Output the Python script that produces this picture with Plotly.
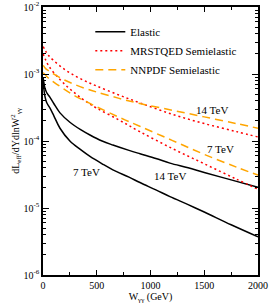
import math
import plotly.graph_objects as go

# W_gamma-gamma (GeV)
W_el = [2, 10, 20, 35, 65, 100, 158, 250, 350, 437, 550, 650, 800, 902, 1050, 1181, 1350, 1500, 1750, 2000]
el7_log = [-3.08, -3.25, -3.35, -3.43, -3.51, -3.62, -3.81, -4.00, -4.13, -4.23, -4.34, -4.43, -4.54, -4.62, -4.73, -4.83, -4.95, -5.06, -5.25, -5.43]
el14_log = [-3.06, -3.15, -3.22, -3.28, -3.35, -3.44, -3.58, -3.72, -3.83, -3.91, -4.00, -4.06, -4.14, -4.19, -4.26, -4.33, -4.40, -4.47, -4.58, -4.69]

W_se = [2, 25, 50, 100, 200, 300, 400, 500, 700, 900, 1200, 1500, 1800, 2000]
mrst14_log = [-2.59, -2.66, -2.72, -2.80, -2.93, -3.03, -3.11, -3.18, -3.31, -3.43, -3.60, -3.74, -3.86, -3.94]
nnpdf14_log = [-2.87, -2.92, -2.95, -3.00, -3.09, -3.16, -3.22, -3.27, -3.36, -3.44, -3.54, -3.64, -3.74, -3.81]
mrst7_log = [-2.70, -2.79, -2.87, -2.98, -3.15, -3.29, -3.41, -3.51, -3.68, -3.86, -4.11, -4.34, -4.57, -4.72]
nnpdf7_log = [-2.98, -3.02, -3.06, -3.12, -3.23, -3.33, -3.41, -3.49, -3.64, -3.78, -3.99, -4.20, -4.39, -4.51]

labels = ["14 TeV", "7 TeV", "14 TeV", "7 TeV"]
label_W = [1572, 1647, 1181, 400]
label_y = [2.9e-4, 7.6e-5, 3.0e-5, 3.4e-5]

x_ticks = [0, 500, 1000, 1500, 2000]
x_minor = [250, 750, 1250, 1750]
y_exps = [-6, -5, -4, -3, -2]


def v(lst):
    return [10 ** a for a in lst]


FONT = "Liberation Serif"
DOT = "2px,3px"
DASH = "8px,5px"
fig = go.Figure()
fig.add_trace(go.Scatter(x=W_el, y=v(el7_log), mode="lines", name="Elastic",
                         line=dict(color="black", width=1.5, shape="spline")))
fig.add_trace(go.Scatter(x=W_el, y=v(el14_log), mode="lines", showlegend=False,
                         line=dict(color="black", width=1.5, shape="spline")))
fig.add_trace(go.Scatter(x=W_se, y=v(mrst14_log), mode="lines", name="MRSTQED Semielastic",
                         line=dict(color="red", width=1.5, dash=DOT, shape="spline")))
fig.add_trace(go.Scatter(x=W_se, y=v(mrst7_log), mode="lines", showlegend=False,
                         line=dict(color="red", width=1.5, dash=DOT, shape="spline")))
fig.add_trace(go.Scatter(x=W_se, y=v(nnpdf14_log), mode="lines", name="NNPDF Semielastic",
                         line=dict(color="orange", width=1.5, dash=DASH, shape="spline")))
fig.add_trace(go.Scatter(x=W_se, y=v(nnpdf7_log), mode="lines", showlegend=False,
                         line=dict(color="orange", width=1.5, dash=DASH, shape="spline")))

for t, xw, yv in zip(labels, label_W, label_y):
    fig.add_annotation(x=xw, y=math.log10(yv), text=t, showarrow=False,
                       font=dict(family=FONT, size=11, color="black"))

fig.update_layout(
    width=269, height=305,
    margin=dict(l=43, r=11, t=7, b=30),
    paper_bgcolor="white", plot_bgcolor="white",
    font=dict(family=FONT, size=10, color="black"),
    legend=dict(x=0.22, y=0.962, xanchor="left", yanchor="top",
                bgcolor="rgba(0,0,0,0)", font=dict(family=FONT, size=11),
                tracegroupgap=0, itemwidth=30),
)
minor_y = [m * 10 ** e for e in y_exps[:-1] for m in range(2, 10)]
fig.update_xaxes(range=[0, 2000], showline=True, linecolor="black", linewidth=1.5,
                 mirror="ticks", ticks="inside", ticklen=5, tickcolor="black",
                 tickvals=x_ticks, showgrid=False, zeroline=False, automargin=False,
                 minor=dict(ticks="inside", ticklen=3, tickvals=x_minor, tickcolor="black"),
                 tickfont=dict(family=FONT, size=10),
                 title=dict(text="W<sub>γγ</sub> (GeV)", font=dict(family=FONT, size=10), standoff=0))
fig.update_yaxes(type="log", range=[-6, -2], showline=True, linecolor="black", linewidth=1.5,
                 mirror="ticks", ticks="inside", ticklen=6, tickcolor="black",
                 tickvals=[10 ** e for e in y_exps],
                 ticktext=["10<sup>%d</sup>" % e for e in y_exps],
                 showgrid=False, zeroline=False, automargin=False,
                 minor=dict(ticks="inside", ticklen=3, tickcolor="black", showgrid=False,
                            tickvals=minor_y),
                 tickfont=dict(family=FONT, size=10),
                 title=dict(text="dL<sub>eff</sub>/dYdlnW<sup>2</sup><sub>γγ</sub>",
                            font=dict(family=FONT, size=10), standoff=0))
fig.write_html("out.html", config={"displayModeBar": False},
               post_script="document.body.style.margin='0';document.body.style.overflow='hidden';")
